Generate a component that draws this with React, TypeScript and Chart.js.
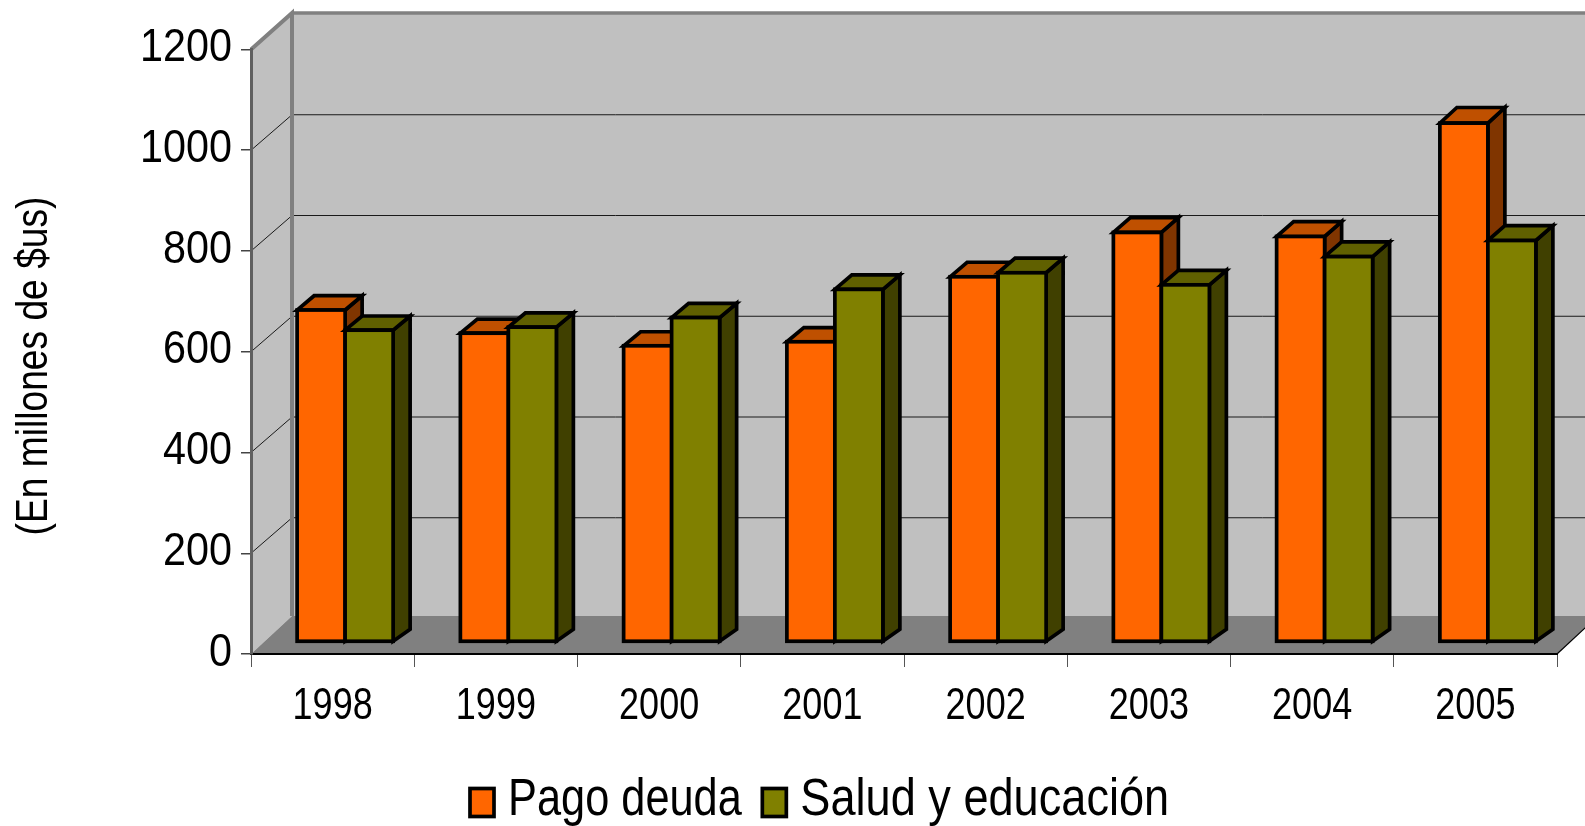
import React, { useEffect, useRef } from "react";
import { Chart, registerables } from "chart.js";

Chart.register(...registerables);

const years = ["1998", "1999", "2000", "2001", "2002", "2003", "2004", "2005"];
const pagoDeuda = [659, 613, 588, 596, 725, 813, 805, 1030];
const saludEducacion = [619, 625, 644, 700, 733, 709, 765, 797];
const yTicks = { min: 0, max: 1200, step: 200 };
const axisTitle = "(En millones de $us)";

const SANS = '"Liberation Sans", Arial, sans-serif';

const faces: Record<string, { top: string; side: string }> = {
  [0]: { top: "#BF5000", side: "#803500" },
  [1]: { top: "#606000", side: "#404000" },
};

// wall depth of the 3D box
const WALL_DX = 41;
const WALL_DY = 36.5;
const GRID_DY = 35.5;
const FLOOR_DY = 38;
// offset of the bars in the box
const BAR_SHIFT_X = 12.5;
const BAR_SHIFT_Y = 12;
// depth of one bar
const BAR_DX = 17;
const BAR_DY = 12;
const BAR_LINE = 3.7;

function poly(ctx: CanvasRenderingContext2D, pts: number[][]) {
  ctx.beginPath();
  pts.forEach((p, i) => (i ? ctx.lineTo(p[0], p[1]) : ctx.moveTo(p[0], p[1])));
  ctx.closePath();
}

// real text, squeezed horizontally about its anchor (the reference uses a condensed face)
function squeezedText(
  ctx: CanvasRenderingContext2D,
  text: string,
  x: number,
  y: number,
  sx: number,
  align: CanvasTextAlign,
) {
  ctx.save();
  ctx.translate(x, y);
  ctx.scale(sx, 1);
  ctx.textAlign = align;
  ctx.textBaseline = "alphabetic";
  ctx.fillText(text, 0, 0);
  ctx.restore();
}

const box3d = {
  id: "box3d",
  beforeDraw(chart: any) {
    const { ctx, chartArea: a, scales } = chart;
    const y = scales.y;
    const b = a.bottom;
    const t = a.top;
    const l = a.left;
    const r = a.right;
    ctx.save();
    ctx.fillStyle = "#C0C0C0";
    poly(ctx, [[l + WALL_DX, t - WALL_DY], [r + WALL_DX, t - WALL_DY], [r + WALL_DX, b - FLOOR_DY], [l + WALL_DX, b - FLOOR_DY]]);
    ctx.fill();
    poly(ctx, [[l, b], [l + WALL_DX, b - FLOOR_DY], [l + WALL_DX, t - WALL_DY], [l, t]]);
    ctx.fill();
    ctx.fillStyle = "#808080";
    poly(ctx, [[l, b], [l + WALL_DX, b - FLOOR_DY], [r + WALL_DX, b - FLOOR_DY], [r, b]]);
    ctx.fill();

    ctx.strokeStyle = "#1a1a1a";
    ctx.lineWidth = 1;
    for (let v = yTicks.min + yTicks.step; v < yTicks.max; v += yTicks.step) {
      const py = y.getPixelForValue(v);
      ctx.beginPath();
      ctx.moveTo(l, py);
      ctx.lineTo(l + WALL_DX, py - GRID_DY);
      ctx.lineTo(r + WALL_DX, py - GRID_DY);
      ctx.stroke();
    }
    ctx.strokeStyle = "#808080";
    ctx.lineWidth = 4;
    ctx.beginPath();
    ctx.moveTo(l, t);
    ctx.lineTo(l + WALL_DX, t - WALL_DY);
    ctx.lineTo(l + WALL_DX, b - FLOOR_DY);
    ctx.stroke();
    ctx.beginPath();
    ctx.lineWidth = 3.5;
    ctx.moveTo(l + WALL_DX, t - WALL_DY);
    ctx.lineTo(r + WALL_DX, t - WALL_DY);
    ctx.stroke();
    ctx.strokeStyle = "#000";
    ctx.lineWidth = 1.2;
    ctx.beginPath();
    ctx.moveTo(r, b);
    ctx.lineTo(r + WALL_DX, b - FLOOR_DY);
    ctx.stroke();
    ctx.restore();
  },
  // Chart.js paints the first dataset last; the cubes need the opposite order,
  // so each controller is asked to draw here, left bar first.
  beforeDatasetsDraw(chart: any) {
    const { ctx } = chart;
    chart.data.datasets.forEach((_: any, index: number) => {
      const meta = chart.getDatasetMeta(index);
      ctx.save();
      ctx.translate(BAR_SHIFT_X, -BAR_SHIFT_Y);
      ctx.lineWidth = BAR_LINE;
      ctx.strokeStyle = "#000";
      ctx.lineJoin = "miter";
      ctx.miterLimit = 10;
      const f = faces[index];
      for (const el of meta.data) {
        const x0 = el.x - el.width / 2;
        const x1 = el.x + el.width / 2;
        const dyTop = BAR_DY + (el.base - el.y) * 0.007;
        ctx.fillStyle = f.side;
        poly(ctx, [[x1, el.y], [x1 + BAR_DX, el.y - dyTop], [x1 + BAR_DX, el.base - BAR_DY], [x1, el.base]]);
        ctx.fill();
        ctx.stroke();
        ctx.fillStyle = f.top;
        poly(ctx, [[x0, el.y], [x1, el.y], [x1 + BAR_DX, el.y - dyTop], [x0 + BAR_DX, el.y - dyTop]]);
        ctx.fill();
        ctx.stroke();
      }
      meta.controller.draw();
      ctx.lineWidth = BAR_LINE;
      ctx.strokeStyle = "#000";
      for (const el of meta.data) {
        ctx.strokeRect(el.x - el.width / 2, el.y, el.width, el.base - el.y);
      }
      ctx.restore();
    });
    return false;
  },
  afterDraw(chart: any) {
    const { ctx, scales } = chart;
    ctx.save();
    ctx.fillStyle = "#000";

    // tick labels
    ctx.font = `47px ${SANS}`;
    scales.y.ticks.forEach((t: any, i: number) => {
      squeezedText(ctx, String(t.label), 232, scales.y.getPixelForTick(i) + 11.5, 0.88, "right");
    });
    ctx.font = `45px ${SANS}`;
    scales.x.ticks.forEach((t: any, i: number) => {
      squeezedText(ctx, String(t.label), scales.x.getPixelForTick(i), 718.5, 0.8, "center");
    });

    // axis title
    ctx.save();
    ctx.translate(32, 366);
    ctx.rotate(-Math.PI / 2);
    ctx.font = `44px ${SANS}`;
    squeezedText(ctx, axisTitle, 0, 15, 0.845, "center");
    ctx.restore();

    // legend
    ctx.font = `51px ${SANS}`;
    const legendSqueeze = [0.85, 0.885];
    let x = 468.5;
    chart.data.datasets.forEach((ds: any, i: number) => {
      ctx.fillStyle = ds.backgroundColor;
      ctx.strokeStyle = "#000";
      ctx.lineWidth = BAR_LINE;
      ctx.fillRect(x + 1.5, 788.5, 24, 28);
      ctx.strokeRect(x + 1.5, 788.5, 24, 28);
      ctx.fillStyle = "#000";
      squeezedText(ctx, ds.label, x + 39.5, 815, legendSqueeze[i], "left");
      x += 39.5 + ctx.measureText(ds.label).width * legendSqueeze[i] + 19;
    });
    ctx.restore();
  },
};

export default function App() {
  const ref = useRef<HTMLCanvasElement>(null);
  useEffect(() => {
    const chart = new Chart(ref.current as HTMLCanvasElement, {
      type: "bar",
      data: {
        labels: years,
        datasets: [
          { label: "Pago deuda", data: pagoDeuda, backgroundColor: "#FF6600", clip: false },
          { label: "Salud y educación", data: saludEducacion, backgroundColor: "#808000", clip: false },
        ],
      },
      options: {
        responsive: false,
        animation: false,
        devicePixelRatio: 1,
        layout: { padding: { left: 0, right: 28, top: 49.5, bottom: 0 } },
        datasets: { bar: { categoryPercentage: 96 / 163.25, barPercentage: 1, borderWidth: 0 } },
        plugins: { legend: { display: false }, title: { display: false }, tooltip: { enabled: false } },
        scales: {
          x: {
            afterFit(s: any) {
              s.height = 172;
            },
            grid: {
              offset: true,
              drawOnChartArea: false,
              color: "#555",
              lineWidth: 1,
              tickLength: 13,
            },
            border: { display: true, color: "#000", width: 2 },
            ticks: { display: false, maxRotation: 0 },
          },
          y: {
            min: yTicks.min,
            max: yTicks.max,
            afterFit(s: any) {
              s.width = 251;
            },
            grid: { drawOnChartArea: false, color: "#444", lineWidth: 1.5, tickLength: 10 },
            border: { display: true, color: "#606060", width: 3 },
            ticks: {
              display: false,
              stepSize: yTicks.step,
              callback: (v: any) => String(v),
            },
          },
        },
      } as any,
      plugins: [box3d],
    });
    return () => chart.destroy();
  }, []);
  return (
    <div style={{ position: "absolute", left: 0, top: 0, width: 1585, height: 826, background: "#fff" }}>
      <canvas ref={ref} width={1585} height={826} style={{ display: "block" }} />
    </div>
  );
}
